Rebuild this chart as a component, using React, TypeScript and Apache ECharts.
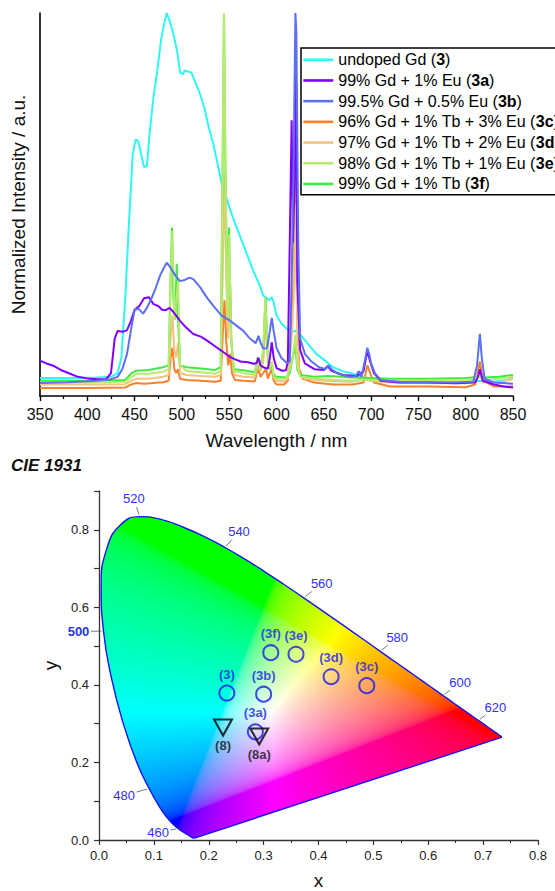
import React, { useEffect, useRef } from 'react';
import * as echarts from 'echarts';

const FONT = '"Liberation Sans", Arial, Helvetica, sans-serif';

// ---------- Emission spectra (wavelength nm, normalized intensity) ----------
const seriesIds = ['3', '3a', '3b', '3c', '3d', '3e', '3f'];
const seriesLabels = [
  'undoped Gd',
  '99% Gd + 1% Eu',
  '99.5% Gd + 0.5% Eu',
  '96% Gd + 1% Tb + 3% Eu',
  '97% Gd + 1% Tb + 2% Eu',
  '98% Gd + 1% Tb + 1% Eu',
  '99% Gd + 1% Tb',
];
const seriesColors = ['#30f5f5', '#8000ff', '#5b70f5', '#f7812b', '#f4c27f', '#b8ea6f', '#40ea3f'];

const spec3 = [
  [350, 0.047], [380, 0.047], [410, 0.048], [425, 0.05], [432, 0.06], [436, 0.1], [440, 0.25], [444, 0.45],
  [448, 0.63], [451, 0.67], [454, 0.665], [457, 0.63], [460, 0.598], [463, 0.6], [466, 0.69], [470, 0.78],
  [474, 0.85], [478, 0.93], [481, 0.97], [484, 1.0], [487, 0.98], [491, 0.945], [495, 0.9], [498, 0.845],
  [501, 0.84], [503, 0.85], [506, 0.847], [510, 0.845], [514, 0.82], [519, 0.79], [524, 0.75], [528, 0.705],
  [533, 0.66], [537, 0.615], [542, 0.555], [548, 0.51], [554, 0.465], [561, 0.42], [568, 0.375], [575, 0.33],
  [582, 0.29], [586, 0.262], [589, 0.257], [592, 0.25], [595, 0.258], [597, 0.245], [600, 0.21], [605, 0.19],
  [611, 0.175], [616, 0.168], [620, 0.17], [625, 0.16], [632, 0.14], [642, 0.11], [650, 0.095], [660, 0.075],
  [670, 0.065], [678, 0.06], [690, 0.05], [700, 0.044], [712, 0.04], [730, 0.037], [760, 0.035], [790, 0.035],
  [815, 0.04], [830, 0.037], [845, 0.042], [850, 0.052],
];
const spec3a = [
  [350, 0.092], [357, 0.085], [364, 0.079], [372, 0.068], [380, 0.06], [390, 0.05], [400, 0.046], [410, 0.044],
  [420, 0.044], [425, 0.06], [429, 0.15], [432, 0.17], [438, 0.168], [442, 0.172], [446, 0.195], [450, 0.225],
  [455, 0.235], [460, 0.255], [465, 0.258], [470, 0.24], [475, 0.235], [479, 0.225], [483, 0.224], [487, 0.23],
  [490, 0.222], [494, 0.21], [498, 0.196], [504, 0.18], [512, 0.162], [520, 0.155], [527, 0.144], [535, 0.13],
  [542, 0.118], [549, 0.105], [555, 0.097], [562, 0.09], [570, 0.088], [576, 0.084], [579, 0.086], [581, 0.1],
  [583, 0.08], [587, 0.074], [591, 0.072], [593, 0.1], [595, 0.14], [597, 0.1], [600, 0.073], [606, 0.066],
  [610, 0.067], [612, 0.09], [614, 0.4], [616, 0.72], [617.5, 0.4], [619, 0.55], [620.5, 0.9], [622, 0.3],
  [625, 0.12], [630, 0.085], [640, 0.07], [650, 0.068], [654, 0.078], [658, 0.066], [670, 0.055], [685, 0.052],
  [692, 0.065], [696, 0.118], [699, 0.09], [703, 0.06], [710, 0.04], [730, 0.035], [760, 0.035], [790, 0.033],
  [810, 0.035], [813, 0.05], [815, 0.07], [818, 0.04], [830, 0.03], [840, 0.025], [850, 0.022],
];
const spec3b = [
  [350, 0.034], [380, 0.036], [410, 0.04], [425, 0.044], [432, 0.05], [437, 0.07], [442, 0.11], [446, 0.17],
  [450, 0.225], [454, 0.228], [459, 0.215], [463, 0.23], [467, 0.25], [472, 0.28], [477, 0.315], [481, 0.335],
  [484, 0.348], [488, 0.335], [493, 0.315], [498, 0.3], [503, 0.303], [508, 0.309], [512, 0.305], [519, 0.285],
  [527, 0.255], [535, 0.23], [542, 0.21], [550, 0.198], [557, 0.185], [565, 0.17], [572, 0.15], [578, 0.138],
  [581, 0.157], [583, 0.14], [586, 0.124], [590, 0.125], [593, 0.17], [595, 0.204], [597, 0.17], [600, 0.126],
  [605, 0.1], [611, 0.086], [614, 0.09], [616, 0.3], [618, 0.6], [620, 1.0], [621, 0.95], [623, 0.4],
  [625, 0.15], [630, 0.11], [637, 0.09], [645, 0.075], [652, 0.07], [655, 0.08], [658, 0.07], [665, 0.058],
  [678, 0.05], [684, 0.052], [687, 0.065], [690, 0.05], [694, 0.1], [696, 0.126], [698, 0.11], [700, 0.085],
  [704, 0.06], [710, 0.042], [730, 0.037], [760, 0.036], [790, 0.035], [808, 0.037], [812, 0.08], [815, 0.162],
  [817, 0.1], [820, 0.045], [830, 0.035], [850, 0.032],
];
const spec3c = [
  [350, 0.021], [400, 0.021], [440, 0.022], [446, 0.03], [452, 0.034], [460, 0.032], [470, 0.034], [480, 0.036],
  [486, 0.04], [488, 0.1], [490, 0.126], [492, 0.07], [494, 0.06], [496, 0.07], [498, 0.045], [505, 0.042],
  [520, 0.04], [535, 0.037], [541, 0.04], [543, 0.15], [545, 0.25], [547, 0.14], [549, 0.08], [551, 0.11],
  [553, 0.06], [556, 0.042], [565, 0.04], [577, 0.038], [579, 0.06], [581, 0.07], [583, 0.05], [586, 0.06],
  [589, 0.07], [591, 0.045], [593, 0.06], [595, 0.07], [597, 0.04], [600, 0.03], [608, 0.03], [612, 0.04],
  [614, 0.12], [616, 0.18], [618, 0.3], [620, 0.6], [622, 0.2], [624, 0.07], [628, 0.045], [640, 0.035],
  [660, 0.03], [680, 0.03], [692, 0.035], [696, 0.08], [699, 0.06], [703, 0.035], [720, 0.025], [760, 0.025],
  [800, 0.023], [810, 0.03], [815, 0.09], [818, 0.04], [830, 0.025], [850, 0.025],
];
const spec3d = [
  [350, 0.03], [400, 0.03], [440, 0.031], [447, 0.04], [452, 0.045], [465, 0.045], [480, 0.05], [486, 0.055],
  [488, 0.15], [490, 0.21], [492, 0.12], [494, 0.1], [496, 0.14], [498, 0.06], [505, 0.055], [520, 0.052],
  [535, 0.05], [541, 0.055], [543, 0.3], [545, 0.58], [547, 0.3], [549, 0.15], [551, 0.3], [553, 0.1],
  [556, 0.055], [565, 0.05], [577, 0.048], [580, 0.08], [583, 0.065], [586, 0.09], [589, 0.2], [591, 0.08],
  [593, 0.07], [595, 0.09], [597, 0.05], [600, 0.04], [608, 0.038], [612, 0.045], [614, 0.1], [616, 0.15],
  [618, 0.25], [620, 0.5], [622, 0.15], [624, 0.06], [630, 0.045], [650, 0.04], [680, 0.037], [695, 0.05],
  [698, 0.04], [720, 0.035], [760, 0.033], [800, 0.033], [815, 0.06], [818, 0.035], [835, 0.035], [850, 0.045],
];
const spec3e = [
  [350, 0.035], [400, 0.035], [440, 0.037], [447, 0.05], [452, 0.058], [465, 0.058], [480, 0.063], [486, 0.07],
  [488, 0.3], [490, 0.43], [492, 0.2], [494, 0.25], [496, 0.3], [498, 0.08], [505, 0.065], [520, 0.062],
  [535, 0.058], [541, 0.065], [543, 0.6], [544.5, 1.0], [546, 0.6], [548, 0.2], [550, 0.42], [552, 0.15],
  [555, 0.065], [565, 0.06], [577, 0.055], [580, 0.1], [583, 0.07], [586, 0.12], [588, 0.257], [590, 0.15],
  [592, 0.07], [595, 0.09], [597, 0.05], [600, 0.045], [610, 0.045], [614, 0.07], [617, 0.1], [620, 0.16],
  [622, 0.08], [625, 0.05], [640, 0.045], [680, 0.04], [700, 0.042], [720, 0.04], [760, 0.04], [800, 0.04],
  [815, 0.05], [820, 0.042], [835, 0.045], [850, 0.05],
];
const spec3f = [
  [350, 0.04], [400, 0.04], [440, 0.042], [447, 0.06], [452, 0.066], [465, 0.068], [480, 0.075], [486, 0.08],
  [488, 0.3], [489.5, 0.44], [491, 0.25], [493, 0.2], [494.5, 0.345], [496, 0.2], [498, 0.08], [505, 0.075],
  [520, 0.072], [535, 0.068], [541, 0.075], [543, 0.6], [544.5, 1.0], [546, 0.6], [548, 0.25], [549.8, 0.44],
  [552, 0.15], [555, 0.07], [565, 0.067], [577, 0.062], [580, 0.1], [583, 0.07], [586, 0.12], [588.5, 0.257],
  [590, 0.14], [592, 0.07], [595, 0.08], [597, 0.055], [600, 0.05], [610, 0.048], [614, 0.06], [617, 0.1],
  [620, 0.13], [622, 0.07], [625, 0.055], [640, 0.05], [655, 0.052], [680, 0.048], [700, 0.047], [720, 0.045],
  [760, 0.045], [800, 0.047], [815, 0.05], [820, 0.048], [835, 0.05], [850, 0.055],
];
const spectra = [spec3, spec3a, spec3b, spec3c, spec3d, spec3e, spec3f];
// drawing order (later = on top): undoped, 3c, 3d, 3f, 3e, 3a, 3b
const drawOrder = [0, 3, 4, 6, 5, 1, 2];

// ---------- CIE 1931 spectral locus (nm, x, y) ----------
const locusNm = [380, 385, 390, 395, 400, 405, 410, 415, 420, 425, 430, 435, 440, 445, 450, 455, 460, 465, 470, 475, 480, 485, 490, 495, 500, 505, 510, 515, 520, 525, 530, 535, 540, 545, 550, 555, 560, 565, 570, 575, 580, 585, 590, 595, 600, 605, 610, 615, 620, 625, 630, 635, 640, 645, 650, 655, 660, 665, 670, 675, 680, 685, 690, 695, 700];
const locusX = [0.1741, 0.1740, 0.1738, 0.1736, 0.1733, 0.1730, 0.1726, 0.1721, 0.1714, 0.1703, 0.1689, 0.1669, 0.1644, 0.1611, 0.1566, 0.1510, 0.1440, 0.1355, 0.1241, 0.1096, 0.0913, 0.0687, 0.0454, 0.0235, 0.0082, 0.0039, 0.0139, 0.0389, 0.0743, 0.1142, 0.1547, 0.1929, 0.2296, 0.2658, 0.3016, 0.3373, 0.3731, 0.4087, 0.4441, 0.4788, 0.5125, 0.5448, 0.5752, 0.6029, 0.6270, 0.6482, 0.6658, 0.6801, 0.6915, 0.7006, 0.7079, 0.7140, 0.7190, 0.7230, 0.7260, 0.7283, 0.7300, 0.7311, 0.7320, 0.7327, 0.7334, 0.7340, 0.7344, 0.7346, 0.7347];
const locusY = [0.0050, 0.0050, 0.0049, 0.0049, 0.0048, 0.0048, 0.0048, 0.0048, 0.0051, 0.0058, 0.0069, 0.0086, 0.0109, 0.0138, 0.0177, 0.0227, 0.0297, 0.0399, 0.0578, 0.0868, 0.1327, 0.2007, 0.2950, 0.4127, 0.5384, 0.6548, 0.7502, 0.8120, 0.8338, 0.8262, 0.8059, 0.7816, 0.7543, 0.7243, 0.6923, 0.6589, 0.6245, 0.5896, 0.5547, 0.5202, 0.4866, 0.4544, 0.4242, 0.3965, 0.3725, 0.3514, 0.3340, 0.3197, 0.3083, 0.2993, 0.2920, 0.2859, 0.2809, 0.2770, 0.2740, 0.2717, 0.2700, 0.2689, 0.2680, 0.2673, 0.2666, 0.2660, 0.2656, 0.2654, 0.2653];
const locusLabelNm = [460, 480, 500, 520, 540, 560, 580, 600, 620];

// ---------- CIE coordinates of samples ----------
const cieNames = ['(3)', '(3a)', '(3b)', '(3c)', '(3d)', '(3e)', '(3f)'];
const cieX = [0.233, 0.285, 0.300, 0.488, 0.423, 0.359, 0.313];
const cieY = [0.379, 0.279, 0.376, 0.398, 0.421, 0.479, 0.483];
const refNames = ['(8)', '(8a)'];
const refX = [0.226, 0.292];
const refY = [0.290, 0.267];

// label placement (pixel offsets) for the wavelength marks on the locus
const labelOffsets: Record<number, number[]> = {
  460: [-20, 4], 480: [-25, 7], 500: [-25, 0], 520: [-6, -18], 540: [14, -16],
  560: [18, -14], 580: [17, -14], 600: [17, -13], 620: [17, -13],
};
const LOCUS_SMOOTH = 0.5;

function xyToRgb(x: number, y: number): number[] {
  const yy = Math.max(y, 0.002);
  const X = x / yy, Y = 1, Z = (1 - x - yy) / yy;
  let r = 3.2406 * X - 1.5372 * Y - 0.4986 * Z;
  let g = -0.9689 * X + 1.8758 * Y + 0.0415 * Z;
  let b = 0.0557 * X - 0.204 * Y + 1.057 * Z;
  r = Math.max(0, r); g = Math.max(0, g); b = Math.max(0, b);
  const m = Math.max(r, g, b) || 1;
  const gam = (v: number) => {
    const s = v <= 0.0031308 ? 12.92 * v : 1.055 * Math.pow(v, 1 / 2.4) - 0.055;
    return Math.pow(Math.min(1, Math.max(0, s)), 0.8);
  };
  return [gam(r / m) * 255, gam(g / m) * 255, gam(b / m) * 255];
}

// smoothed path through pixel points (same style of smoothing as the line series)
function tracePath(ctx: CanvasRenderingContext2D, pts: number[][], smooth: number) {
  const n = pts.length;
  ctx.moveTo(pts[0][0], pts[0][1]);
  const cps: number[][][] = pts.map((p, i) => {
    const prev = pts[Math.max(0, i - 1)];
    const next = pts[Math.min(n - 1, i + 1)];
    const vx = (next[0] - prev[0]) * smooth;
    const vy = (next[1] - prev[1]) * smooth;
    const d0 = Math.hypot(p[0] - prev[0], p[1] - prev[1]);
    const d1 = Math.hypot(next[0] - p[0], next[1] - p[1]);
    const s = d0 + d1 || 1;
    return [[p[0] - vx * (d0 / s), p[1] - vy * (d0 / s)], [p[0] + vx * (d1 / s), p[1] + vy * (d1 / s)]];
  });
  for (let i = 1; i < n; i++) {
    const c1 = cps[i - 1][1];
    const c2 = cps[i][0];
    ctx.bezierCurveTo(c1[0], c1[1], c2[0], c2[1], pts[i][0], pts[i][1]);
  }
}

export default function App() {
  const ref = useRef<HTMLDivElement>(null);
  useEffect(() => {
    if (!ref.current) return;
    const chart = echarts.init(ref.current, undefined, { renderer: 'svg' });

    const names = seriesIds.map((id, i) => `${seriesLabels[i]} (${id})`);
    const lineSeries = drawOrder.map((i) => ({
      name: names[i],
      type: 'line',
      xAxisIndex: 0,
      yAxisIndex: 0,
      data: spectra[i],
      symbol: 'none',
      showSymbol: false,
      smooth: false,
      color: seriesColors[i],
      lineStyle: { width: 2, color: seriesColors[i] },
      emphasis: { disabled: true },
      z: 2,
    }));

    const locusLine = locusNm.map((_, i) => [locusX[i], locusY[i]]);
    const last = locusNm.length - 1;
    const purpleLine = [[locusX[last], locusY[last]], [locusX[0], locusY[0]]];
    const labelData = locusLabelNm.map((nm) => {
      const k = locusNm.indexOf(nm);
      return [locusX[k], locusY[k], nm];
    });

    const option: any = {
      animation: false,
      backgroundColor: '#fff',
      textStyle: { fontFamily: FONT },
      title: {
        text: 'CIE 1931',
        left: 11,
        top: 457,
        padding: 0,
        textStyle: { fontFamily: FONT, fontSize: 17, fontStyle: 'italic', fontWeight: 'bold', color: '#111' },
      },
      legend: {
        data: names,
        orient: 'vertical',
        left: 301,
        top: 48,
        itemWidth: 30,
        itemHeight: 14,
        itemGap: 3.2,
        padding: [3, 6, 2, 1],
        borderColor: '#000',
        borderWidth: 1.5,
        backgroundColor: '#fff',
        selectedMode: false,
        itemStyle: { opacity: 0, borderWidth: 0 },
        lineStyle: { width: 2.6 },
        formatter: (n: string) => n.replace(/\(([0-9a-z]+)\)$/, '({b|$1})'),
        textStyle: {
          fontFamily: FONT,
          fontSize: 16,
          lineHeight: 17.5,
          color: '#000',
          rich: { b: { fontFamily: FONT, fontSize: 16, lineHeight: 17.5, fontWeight: 'bold', color: '#000' } },
        },
      },
      grid: [
        { left: 40, top: 13, width: 473, height: 383 },
        { left: 99, top: 491, width: 439, height: 355 },
      ],
      xAxis: [
        {
          type: 'value', gridIndex: 0, min: 350, max: 850, interval: 50,
          name: 'Wavelength / nm', nameLocation: 'middle', nameGap: 35,
          nameTextStyle: { fontFamily: FONT, fontSize: 19, color: '#111' },
          axisLine: { show: true, onZero: false, lineStyle: { color: '#000', width: 1.6 } },
          axisTick: { show: true, length: 5, lineStyle: { color: '#000', width: 1.4 } },
          minorTick: { show: true, splitNumber: 2, length: 3, lineStyle: { color: '#000', width: 1.2 } },
          axisLabel: { fontFamily: FONT, fontSize: 16, color: '#111', margin: 10 },
          splitLine: { show: false },
        },
        {
          type: 'value', gridIndex: 1, min: 0, max: 0.8, interval: 0.1,
          name: 'x', nameLocation: 'middle', nameGap: 31,
          nameTextStyle: { fontFamily: FONT, fontSize: 19, color: '#111' },
          axisLine: { show: true, onZero: false, lineStyle: { color: '#333', width: 1.3 } },
          axisTick: { show: true, length: 5, lineStyle: { color: '#333', width: 1.2 } },
          minorTick: { show: true, splitNumber: 2, length: 3, lineStyle: { color: '#333', width: 1 } },
          axisLabel: { fontFamily: FONT, fontSize: 13, color: '#222', margin: 9, formatter: (v: number) => v.toFixed(1) },
          splitLine: { show: false },
        },
      ],
      yAxis: [
        {
          type: 'value', gridIndex: 0, min: 0, max: 1,
          name: 'Normalized Intensity / a.u.', nameLocation: 'middle', nameGap: 12,
          nameTextStyle: { fontFamily: FONT, fontSize: 19, color: '#111' },
          axisLine: { show: true, onZero: false, lineStyle: { color: '#000', width: 1.6 } },
          axisTick: { show: false },
          axisLabel: { show: false },
          splitLine: { show: false },
        },
        {
          type: 'value', gridIndex: 1, min: 0, max: 0.9, interval: 0.1,
          name: 'y', nameLocation: 'middle', nameGap: 33,
          nameTextStyle: { fontFamily: FONT, fontSize: 19, color: '#111' },
          axisLine: { show: true, onZero: false, lineStyle: { color: '#333', width: 1.3 } },
          axisTick: { show: true, length: 5, lineStyle: { color: '#333', width: 1.2 } },
          axisLabel: {
            fontFamily: FONT, fontSize: 13, color: '#222', margin: 10,
            formatter: (v: number) => (Math.round(v * 10) % 2 === 0 ? v.toFixed(1) : ''),
          },
          splitLine: { show: false },
        },
      ],
      series: [
        ...lineSeries,
        {
          name: 'locus',
          type: 'line',
          xAxisIndex: 1,
          yAxisIndex: 1,
          data: locusLine,
          symbol: 'none',
          smooth: LOCUS_SMOOTH,
          lineStyle: { color: '#1414f0', width: 1.4 },
          emphasis: { disabled: true },
          z: 3,
        },
        {
          name: 'purpleLine',
          type: 'line',
          xAxisIndex: 1,
          yAxisIndex: 1,
          data: purpleLine,
          symbol: 'none',
          lineStyle: { color: '#1414f0', width: 1.4 },
          emphasis: { disabled: true },
          z: 3,
        },
        {
          name: 'locusLabels',
          type: 'custom',
          xAxisIndex: 1,
          yAxisIndex: 1,
          data: labelData,
          z: 4,
          renderItem: (_p: any, api: any) => {
            const nm = api.value(2);
            const p = api.coord([api.value(0), api.value(1)]);
            const off = labelOffsets[nm] || [15, -12];
            const d = Math.hypot(off[0], off[1]);
            const ux = off[0] / d, uy = off[1] / d;
            const edge = Math.min(10.5 / Math.max(Math.abs(ux), 1e-6), 6.5 / Math.max(Math.abs(uy), 1e-6));
            const end = Math.max(5, d - edge - 2);
            const bold = nm === 500;
            return {
              type: 'group',
              children: [
                {
                  type: 'line',
                  shape: { x1: p[0] + ux * 2, y1: p[1] + uy * 2, x2: p[0] + ux * end, y2: p[1] + uy * end },
                  style: { stroke: '#555', lineWidth: 0.8 },
                },
                {
                  type: 'text',
                  x: p[0] + off[0],
                  y: p[1] + off[1],
                  style: {
                    text: String(nm),
                    fill: bold ? '#1e3adc' : '#3030ff',
                    fontFamily: FONT,
                    fontSize: 13,
                    fontWeight: bold ? 'bold' : 'normal',
                    align: 'center',
                    verticalAlign: 'middle',
                  },
                },
              ],
            };
          },
        },
        {
          name: 'samples',
          type: 'scatter',
          xAxisIndex: 1,
          yAxisIndex: 1,
          data: cieNames.map((n, i) => ({ name: n, value: [cieX[i], cieY[i]] })),
          symbol: 'circle',
          symbolSize: 15,
          itemStyle: { color: 'rgba(0,0,0,0)', borderColor: '#1c1ce6', borderWidth: 2 },
          label: {
            show: true, position: 'top', distance: 4, formatter: (p: any) => p.name,
            fontFamily: FONT, fontSize: 13, fontWeight: 'bold', color: '#1c1ce6',
          },
          emphasis: { disabled: true },
          z: 5,
        },
        {
          name: 'references',
          type: 'scatter',
          xAxisIndex: 1,
          yAxisIndex: 1,
          data: refNames.map((n, i) => ({ name: n, value: [refX[i], refY[i]] })),
          symbol: 'triangle',
          symbolRotate: 180,
          symbolSize: [18, 16],
          itemStyle: { color: 'rgba(0,0,0,0)', borderColor: '#000', borderWidth: 2 },
          label: {
            show: true, position: 'bottom', distance: 3, formatter: (p: any) => p.name,
            fontFamily: FONT, fontSize: 13, fontWeight: 'bold', color: '#111',
          },
          emphasis: { disabled: true },
          z: 6,
        },
      ],
    };
    chart.setOption(option);

    // chromaticity fill inside the spectral locus, positioned through the axis scales
    try {
      const o = chart.convertToPixel({ gridIndex: 1 } as any, [0, 0]) as number[];
      const t = chart.convertToPixel({ gridIndex: 1 } as any, [0.8, 0.9]) as number[];
      const w = Math.round(t[0] - o[0]);
      const h = Math.round(o[1] - t[1]);
      const canvas = document.createElement('canvas');
      canvas.width = w;
      canvas.height = h;
      const ctx = canvas.getContext('2d');
      if (ctx && w > 0 && h > 0) {
        const img = ctx.createImageData(w, h);
        for (let j = 0; j < h; j++) {
          const y = 0.9 * (1 - (j + 0.5) / h);
          for (let i = 0; i < w; i++) {
            const x = 0.8 * ((i + 0.5) / w);
            const c = xyToRgb(x, y);
            const k = (j * w + i) * 4;
            img.data[k] = c[0];
            img.data[k + 1] = c[1];
            img.data[k + 2] = c[2];
            img.data[k + 3] = 255;
          }
        }
        ctx.putImageData(img, 0, 0);
        ctx.globalCompositeOperation = 'destination-in';
        const pts = locusNm.map((_, i) => [(locusX[i] / 0.8) * w, (1 - locusY[i] / 0.9) * h]);
        ctx.beginPath();
        tracePath(ctx, pts, LOCUS_SMOOTH);
        ctx.closePath();
        ctx.fillStyle = '#000';
        ctx.fill();
        const url = canvas.toDataURL('image/png');
        chart.setOption({
          graphic: [
            {
              type: 'image',
              silent: true,
              z: 1,
              x: o[0],
              y: t[1],
              style: { image: url, x: 0, y: 0, width: w, height: h },
            },
          ],
        });
      }
    } catch (e) {
      // ignore
    }

    return () => chart.dispose();
  }, []);

  return (
    <div
      ref={ref}
      style={{ position: 'absolute', left: 0, top: 0, width: 555, height: 891, background: '#fff' }}
    />
  );
}
